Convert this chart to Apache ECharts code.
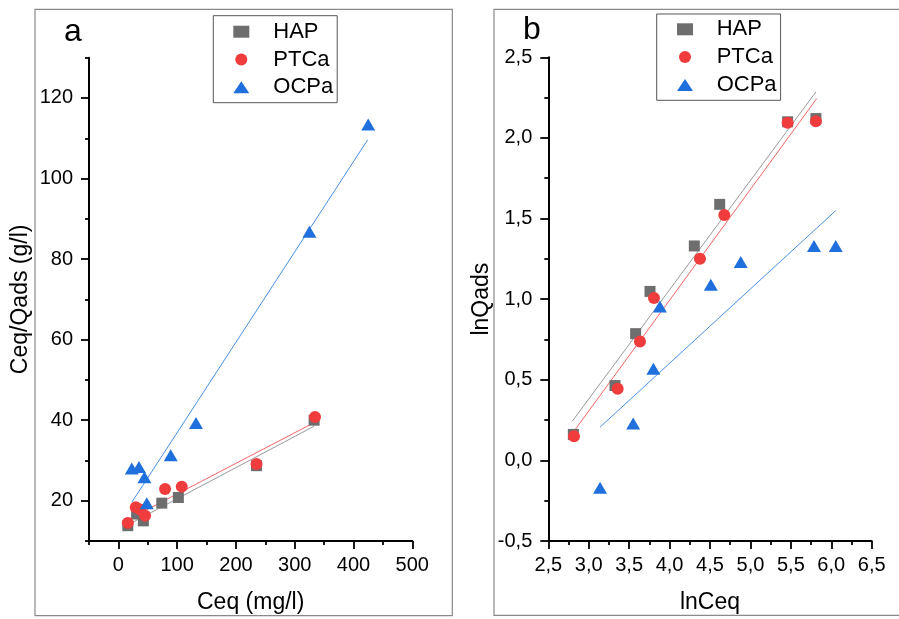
<!DOCTYPE html>
<html>
<head>
<meta charset="utf-8">
<script src="https://cdn.jsdelivr.net/npm/echarts@6/dist/echarts.min.js"></script>
<style>
  html, body { margin: 0; padding: 0; background: #fff; }
  #chart { width: 899px; height: 619px; }
</style>
</head>
<body>
<div id="chart"></div>
<script>
// Panel a: Langmuir plot, Ceq/Qads vs Ceq
const aHapX  = [16, 31, 42.5, 73.8, 102, 235, 333];
const aHapY  = [13.8, 16.7, 15.0, 19.4, 20.8, 28.7, 40.0];
const aPtcX  = [16, 29.6, 37, 45.4, 79.4, 107.8, 235, 334.5];
const aPtcY  = [14.5, 18.4, 17.8, 16.3, 22.9, 23.5, 29.1, 40.8];
const aOcpX  = [22.8, 35, 44.3, 48.3, 89, 132, 325, 425];
const aOcpY  = [28.0, 28.4, 25.8, 19.4, 31.3, 39.3, 86.8, 113.4];
// fitted lines, [start, end]
const aHapFit = [[16, 14.0], [333, 38.5]];
const aPtcFit = [[16, 15.3], [334.5, 39.5]];
const aOcpFit = [[22.8, 19.6], [424, 109.6]];
const aXTicks = [0, 100, 200, 300, 400, 500];
const aXMinor = [-50, 50, 150, 250, 350, 450];
const aYTicks = [20, 40, 60, 80, 100, 120];
const aYMinor = [10, 30, 50, 70, 90, 110, 130];

// Panel b: Freundlich plot, lnQads vs lnCeq
const bHapX  = [2.81, 3.325, 3.58, 3.758, 4.306, 4.62, 5.46, 5.81];
const bHapY  = [0.161, 0.464, 0.786, 1.048, 1.33, 1.588, 2.10, 2.12];
const bPtcX  = [2.818, 3.358, 3.634, 3.807, 4.376, 4.677, 5.46, 5.81];
const bPtcY  = [0.150, 0.444, 0.738, 1.007, 1.25, 1.522, 2.094, 2.104];
const bOcpX  = [3.14, 3.55, 3.80, 3.88, 4.51, 4.88, 5.786, 6.055];
const bOcpY  = [-0.169, 0.229, 0.569, 0.955, 1.089, 1.23, 1.33, 1.33];
const bHapFit = [[2.797, 0.243], [5.81, 2.285]];
const bPtcFit = [[2.818, 0.181], [5.82, 2.244]];
const bOcpFit = [[3.14, 0.206], [6.055, 1.549]];

const seriesNames = ['HAP', 'PTCa', 'OCPa'];

const FONT = '"Liberation Sans", Arial, sans-serif';
const C_HAP = '#6e6e6e', C_PTC = '#f03c3c', C_OCP = '#1f6fdc';
const L_HAP = '#9a9a9a', L_PTC = '#f26666', L_OCP = '#4a90e2';

const zip = (xs, ys) => xs.map((x, i) => [x, ys[i]]);
const comma = v => v.toFixed(1).replace('.', ',');

const axisLineStyle = { color: '#000', width: 2 };
const tickLine = { color: '#000', width: 1.8 };
const labelStyle = { color: '#000', fontSize: 20, fontFamily: FONT };
const nameStyle = { color: '#000', fontSize: 23, fontFamily: FONT };

function minorAxis(gridIndex, min, max, values, position) {
  return {
    type: 'value', gridIndex, min, max, position,
    axisLine: { show: false, onZero: false },
    axisLabel: { show: false },
    splitLine: { show: false },
    axisTick: { show: true, length: 4, customValues: values, lineStyle: tickLine }
  };
}

function scatter(name, data, symbol, size, color, xi, yi) {
  return {
    name, type: 'scatter', xAxisIndex: xi, yAxisIndex: yi, data,
    symbol, symbolSize: size, itemStyle: { color, opacity: 1 }, z: 3
  };
}
function fit(data, color, xi, yi) {
  return {
    type: 'line', xAxisIndex: xi, yAxisIndex: yi, data, showSymbol: false,
    symbol: 'none', lineStyle: { color, width: 1 }, silent: true, z: 2
  };
}

function legend(left, top, padTop, padLeft, textPad) {
  return {
    left, top, orient: 'vertical',
    data: seriesNames,
    itemWidth: 16, itemHeight: 12, itemGap: 5.8,
    padding: [padTop, 4, 4.4, padLeft],
    borderColor: '#555', borderWidth: 1, borderRadius: 0,
    textStyle: { color: '#000', fontSize: 22, fontFamily: FONT, lineHeight: 22, padding: [0, 0, 0, textPad] },
    selectedMode: false
  };
}

const chart = echarts.init(document.getElementById('chart'), null, { renderer: 'canvas' });

chart.setOption({
  animation: false,
  backgroundColor: '#fff',
  textStyle: { fontFamily: FONT },
  grid: [
    { left: 89, top: 57.7, width: 323.3, height: 484.6 },
    { left: 548.3, top: 57.3, width: 323.4, height: 484.7 }
  ],
  legend: [
    legend(213.3, 15.7, 5, 20, 19),
    legend(656.7, 14, 4.3, 20.3, 18.7)
  ],
  xAxis: [
    {
      type: 'value', gridIndex: 0, min: -50, max: 500, position: 'bottom',
      name: 'Ceq (mg/l)', nameLocation: 'middle', nameGap: 50, nameTextStyle: nameStyle,
      axisLine: { onZero: false, lineStyle: axisLineStyle },
      axisTick: { length: 8, customValues: aXTicks, lineStyle: tickLine },
      axisLabel: Object.assign({ customValues: aXTicks, margin: 14 }, labelStyle),
      splitLine: { show: false }
    },
    minorAxis(0, -50, 500, aXMinor, 'bottom'),
    {
      type: 'value', gridIndex: 1, min: 2.5, max: 6.5, interval: 0.5, position: 'bottom',
      name: 'lnCeq', nameLocation: 'middle', nameGap: 50, nameTextStyle: nameStyle,
      axisLine: { onZero: false, lineStyle: axisLineStyle },
      axisTick: { length: 8, lineStyle: tickLine },
      minorTick: { show: true, splitNumber: 2, length: 4, lineStyle: tickLine },
      axisLabel: Object.assign({ margin: 14, formatter: comma }, labelStyle),
      splitLine: { show: false }, minorSplitLine: { show: false }
    }
  ],
  yAxis: [
    {
      type: 'value', gridIndex: 0, min: 10, max: 130, position: 'left',
      name: 'Ceq/Qads (g/l)', nameLocation: 'middle', nameGap: 57, nameTextStyle: nameStyle,
      axisLine: { onZero: false, lineStyle: axisLineStyle },
      axisTick: { length: 8, customValues: aYTicks, lineStyle: tickLine },
      axisLabel: Object.assign({ customValues: aYTicks, margin: 16 }, labelStyle),
      splitLine: { show: false }
    },
    minorAxis(0, 10, 130, aYMinor, 'left'),
    {
      type: 'value', gridIndex: 1, min: -0.5, max: 2.5, interval: 0.5, position: 'left',
      name: 'lnQads', nameLocation: 'middle', nameGap: 55, nameTextStyle: nameStyle,
      axisLine: { onZero: false, lineStyle: axisLineStyle },
      axisTick: { length: 8, lineStyle: tickLine },
      minorTick: { show: true, splitNumber: 2, length: 4, lineStyle: tickLine },
      axisLabel: Object.assign({ margin: 16, formatter: comma }, labelStyle),
      splitLine: { show: false }, minorSplitLine: { show: false }
    }
  ],
  graphic: [
    { type: 'rect', shape: { x: 35, y: 9.3, width: 417.3, height: 606.4 }, style: { fill: 'none', stroke: '#8a8a8a', lineWidth: 1.2 }, silent: true, z: -1 },
    { type: 'rect', shape: { x: 494, y: 9.3, width: 420, height: 606 }, style: { fill: 'none', stroke: '#8a8a8a', lineWidth: 1.2 }, silent: true, z: -1 },
    { type: 'text', left: 64, top: 16, style: { text: 'a', font: '32px ' + FONT, fill: '#000' }, silent: true },
    { type: 'text', left: 523, top: 14, style: { text: 'b', font: '32px ' + FONT, fill: '#000' }, silent: true }
  ],
  series: [
    fit(aHapFit, L_HAP, 0, 0),
    fit(aPtcFit, L_PTC, 0, 0),
    fit(aOcpFit, L_OCP, 0, 0),
    scatter('HAP', zip(aHapX, aHapY), 'rect', 11, C_HAP, 0, 0),
    scatter('PTCa', zip(aPtcX, aPtcY), 'circle', 12, C_PTC, 0, 0),
    scatter('OCPa', zip(aOcpX, aOcpY), 'triangle', [14, 12], C_OCP, 0, 0),
    fit(bHapFit, L_HAP, 2, 2),
    fit(bPtcFit, L_PTC, 2, 2),
    fit(bOcpFit, L_OCP, 2, 2),
    scatter('HAP', zip(bHapX, bHapY), 'rect', 11, C_HAP, 2, 2),
    scatter('PTCa', zip(bPtcX, bPtcY), 'circle', 12, C_PTC, 2, 2),
    scatter('OCPa', zip(bOcpX, bOcpY), 'triangle', [14, 12], C_OCP, 2, 2)
  ]
});
</script>
</body>
</html>
